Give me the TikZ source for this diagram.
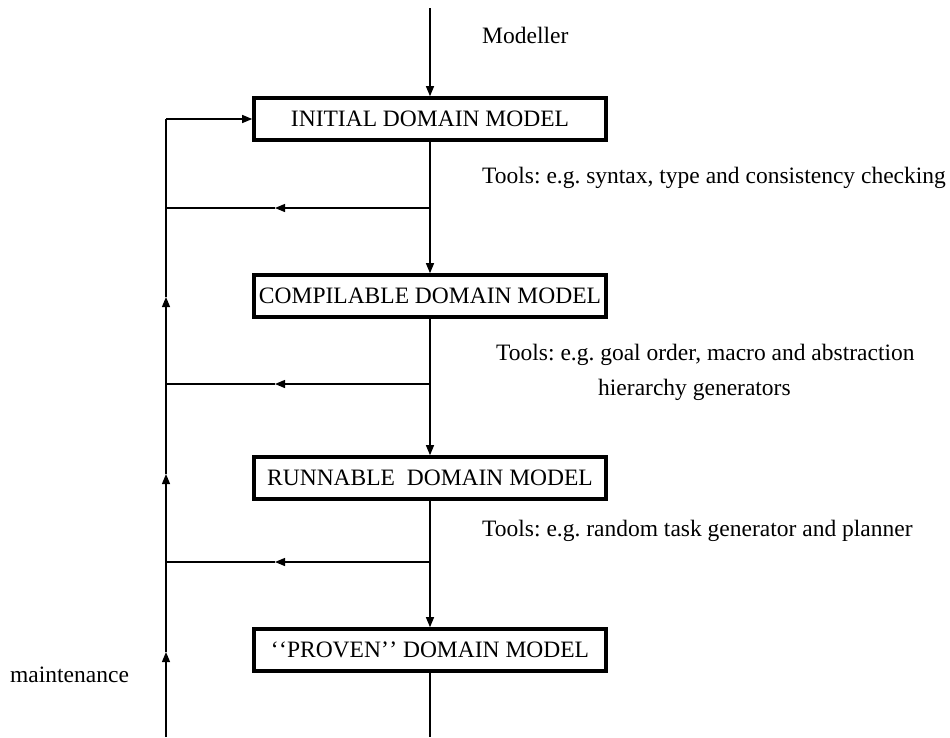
\documentclass[tikz,border=0pt]{standalone}
\usepackage{fontspec}
\setmainfont{Liberation Serif}
\usetikzlibrary{arrows.meta}
\begin{document}
\frenchspacing
\begin{tikzpicture}[x=1pt,y=-1pt,
  stagebox/.style={draw,line width=3.6pt,minimum width=352pt,minimum height=42pt,inner sep=0pt,font=\fontsize{23.5}{27}\selectfont},
  lbl/.style={font=\fontsize{23.5}{27}\selectfont,inner sep=0pt},
  flow/.style={line width=1.2pt},
  tip/.style={-{Triangle[length=10pt,width=8pt]}}]
\useasboundingbox (0,0) rectangle (950,737);
\node[stagebox] (b1) at (430,119) {INITIAL DOMAIN MODEL};
\node[stagebox] (b2) at (430,296) {COMPILABLE DOMAIN MODEL};
\node[stagebox] (b3) at (430,478) {RUNNABLE\ \ DOMAIN MODEL};
\node[stagebox] (b4) at (430,650) {`\kern0.5pt`PROVEN'\kern0.5pt' DOMAIN MODEL};
\coordinate (top) at (430,8);
\coordinate (bot) at (430,737);
\coordinate (lbot) at (166,737);
\coordinate (lcorner) at (166,119);
\coordinate (j1) at (430,208);
\coordinate (j2) at (430,384);
\coordinate (j3) at (430,562);
\coordinate (l1) at (166,208);
\coordinate (l2) at (166,384);
\coordinate (l3) at (166,562);
\coordinate (m1) at (275,208);
\coordinate (m2) at (275,384);
\coordinate (m3) at (275,562);
\coordinate (u1) at (166,297);
\coordinate (u2) at (166,474);
\coordinate (u3) at (166,652);
% main line
\draw[flow,tip] (top) -- (b1.north);
\draw[flow,tip] (b1.south) -- (b2.north);
\draw[flow,tip] (b2.south) -- (b3.north);
\draw[flow,tip] (b3.south) -- (b4.north);
\draw[flow] (b4.south) -- (bot);
% branches
\draw[flow,tip] (j1) -- (m1);
\draw[flow] (m1) -- (l1);
\draw[flow,tip] (j2) -- (m2);
\draw[flow] (m2) -- (l2);
\draw[flow,tip] (j3) -- (m3);
\draw[flow] (m3) -- (l3);
% left return line
\draw[flow,tip] (lbot) -- (u3);
\draw[flow,tip] (u3) -- (u2);
\draw[flow,tip] (u2) -- (u1);
\draw[flow] (u1) -- (lcorner);
\draw[flow,tip] (lcorner) -- (b1.west);
% labels
\node[lbl,anchor=west] (modeller) at (482,35) {Modeller};
\node[lbl,anchor=west] (t1) at (482,178) {Tools: e.g. syntax, type and consistency checking};
\node[lbl,anchor=west] (t2a) at (496,355) {Tools: e.g. goal order, macro and abstraction};
\node[lbl,anchor=west] (t2b) at (598,390) {hierarchy generators};
\node[lbl,anchor=west] (t3) at (482,531) {Tools: e.g. random task generator and planner};
\node[lbl,anchor=west] (maint) at (10,675) {maintenance};
\end{tikzpicture}
\end{document}
